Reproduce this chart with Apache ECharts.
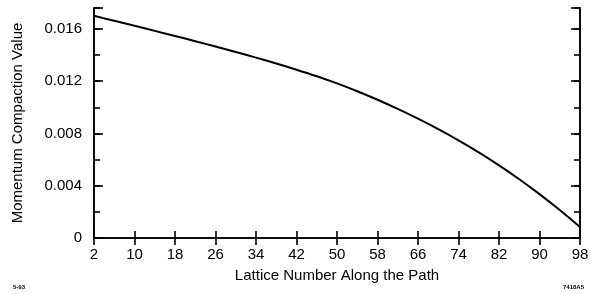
<!DOCTYPE html>
<html>
<head>
<meta charset="utf-8">
<script src="https://cdn.jsdelivr.net/npm/echarts@6/dist/echarts.min.js"></script>
<style>html,body{margin:0;padding:0;background:#fff;}#c{width:596px;height:294px;}</style>
</head>
<body>
<div id="c"></div>
<script>
var lattice = [2, 6, 10, 14, 18, 22, 26, 30, 34, 38, 42, 46, 50, 54, 58, 62, 66, 70, 74, 78, 82, 86, 90, 94, 98];
var compaction = [0.01700, 0.01662, 0.01624, 0.01585, 0.01546, 0.01506, 0.01465, 0.01423, 0.01380, 0.01335, 0.01288, 0.01238, 0.01183, 0.01123, 0.01058, 0.00988, 0.00913, 0.00833, 0.00747, 0.00655, 0.00556, 0.00450, 0.00336, 0.00214, 0.00084];
var xTicks = [2, 10, 18, 26, 34, 42, 50, 58, 66, 74, 82, 90, 98];
var yTicks = [0, 0.004, 0.008, 0.012, 0.016];
var xName = 'Lattice Number Along the Path';
var yName = 'Momentum Compaction Value';
var noteLeft = '5-93';
var noteRight = '7418A5';

var font = 'Liberation Sans, Arial, Helvetica, sans-serif';
var chart = echarts.init(document.getElementById('c'));
var data = lattice.map(function (x, i) { return [x, compaction[i]]; });
var yMax = 0.0176;

function yAxisBase(extra) {
  var o = {
    type: 'value', min: 0, max: yMax, interval: 0.004,
    axisLine: { show: true, lineStyle: { color: '#000', width: 1.6 } },
    splitLine: { show: false },
    axisLabel: { show: false },
    axisTick: { show: true, inside: true, length: 9, lineStyle: { color: '#000', width: 1.6 } }
  };
  for (var k in extra) o[k] = extra[k];
  return o;
}

chart.setOption({
  animation: false,
  backgroundColor: '#fff',
  grid: { left: 94, right: 16, top: 8, bottom: 56 },
  xAxis: [{
    type: 'value', min: 2, max: 98, interval: 8, position: 'bottom',
    name: xName, nameLocation: 'middle', nameGap: 30,
    nameTextStyle: { color: '#000', fontSize: 15, fontFamily: font },
    axisLine: { show: true, lineStyle: { color: '#000', width: 1.6 } },
    axisTick: { show: true, inside: true, length: 7, lineStyle: { color: '#000', width: 1.6 } },
    splitLine: { show: false },
    axisLabel: {
      color: '#000', fontSize: 15, fontFamily: font, margin: 9,
      formatter: function (v) { return xTicks.indexOf(v) >= 0 ? String(v) : ''; }
    }
  }, {
    type: 'value', min: 2, max: 98, interval: 8, position: 'top',
    axisLine: { show: true, lineStyle: { color: '#000', width: 1.6 } },
    axisTick: { show: true, inside: true, length: 7, lineStyle: { color: '#000', width: 1.6 } },
    splitLine: { show: false },
    axisLabel: { show: false }
  }],
  yAxis: [
    yAxisBase({
      position: 'left',
      name: yName, nameLocation: 'middle', nameGap: 69,
      nameTextStyle: { color: '#000', fontSize: 15, fontFamily: font },
      axisLabel: {
        show: true, color: '#000', fontSize: 15, fontFamily: font, margin: 12,
        formatter: function (v) {
          for (var i = 0; i < yTicks.length; i++) {
            if (Math.abs(v - yTicks[i]) < 1e-9) return yTicks[i] === 0 ? '0' : yTicks[i].toFixed(3);
          }
          return '';
        }
      }
    }),
    yAxisBase({ position: 'left', interval: 0.002, axisTick: { show: true, inside: true, length: 6, lineStyle: { color: '#000', width: 1.6 } } }),
    yAxisBase({ position: 'right' }),
    yAxisBase({ position: 'right', interval: 0.002, axisTick: { show: true, inside: true, length: 6, lineStyle: { color: '#000', width: 1.6 } } })
  ],
  series: [{
    type: 'line', data: data, xAxisIndex: 0, yAxisIndex: 0,
    smooth: 0.3, showSymbol: false, symbol: 'none',
    lineStyle: { color: '#000', width: 2 }
  }],
  graphic: [
    { type: 'text', left: 13, top: 284, style: { text: noteLeft, fill: '#000', font: 'bold 6px ' + font } },
    { type: 'text', left: 563, top: 284, style: { text: noteRight, fill: '#000', font: 'bold 6px ' + font } }
  ]
});
</script>
</body>
</html>
